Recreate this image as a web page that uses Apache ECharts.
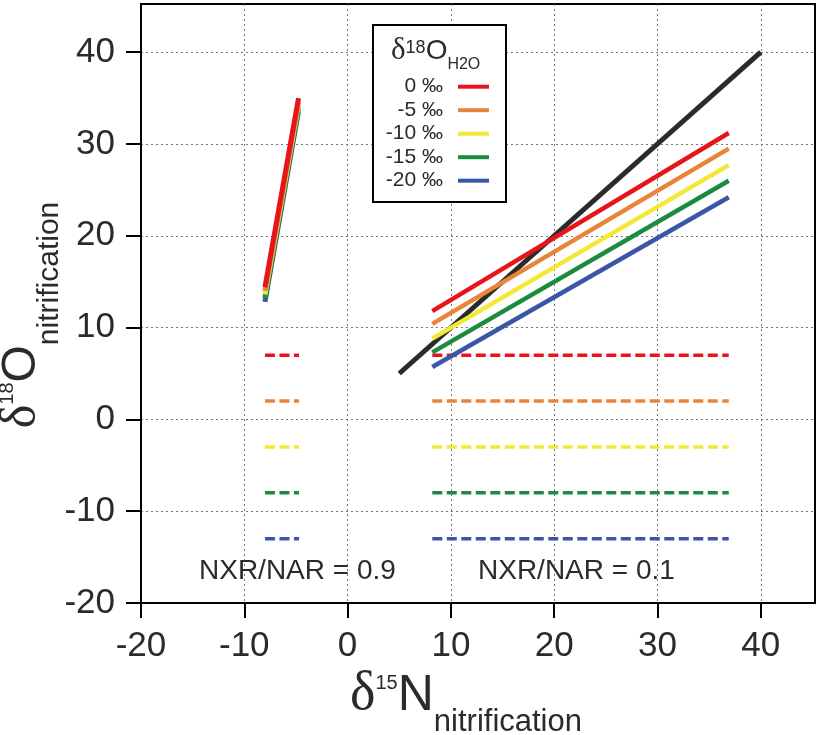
<!DOCTYPE html>
<html><head><meta charset="utf-8">
<script src="https://cdn.jsdelivr.net/npm/echarts@6/dist/echarts.min.js"></script>
<style>html,body{margin:0;padding:0;background:#fff}#c{width:820px;height:735px}</style>
</head><body><div id="c"></div>
<script>
// ---- data ----
const waterLabels = ['0 ‰', '-5 ‰', '-10 ‰', '-15 ‰', '-20 ‰'];
const xTicks = [-20, -10, 0, 10, 20, 30, 40];
const yTicks = [-20, -10, 0, 10, 20, 30, 40];
// NXR/NAR = 0.9 : steep solid lines
const steepX = [-8, -4.75];
const steepStartY = [14.4, 14.0, 13.6, 13.2, 12.8];
const steepEndY = [35.0, 34.6, 34.3, 34.0, 33.6];
// NXR/NAR = 0.9 : dashed lines
const leftDashX = [-8, -4.7];
// NXR/NAR = 0.1 : solid lines
const rightX = [8.2, 36.9];
const rightStartY = [11.8, 10.4, 8.8, 7.3, 5.7];
const rightEndY = [31.2, 29.5, 27.7, 26.0, 24.2];
// NXR/NAR = 0.1 : dashed lines
const rightDashX = [8.2, 36.9];
// dashed levels (both groups)
const dashY = [7, 2, -3, -8, -13];
// 1:1 line
const oneToOneX = [5, 40];
const oneToOneY = [5, 40];
const annotations = ['NXR/NAR = 0.9', 'NXR/NAR = 0.1'];

// ---- styles ----
const colors = ['#e8141b', '#e8853a', '#f5e735', '#1b8c3e', '#3b56a6'];
const SANS = '"Liberation Sans", Arial, sans-serif';
const SERIF = '"Liberation Serif", "Times New Roman", serif';
const TXT = '#2b2b2b';

const series = [];
series.push({
  type: 'line', name: '1:1', data: [[oneToOneX[0], oneToOneY[0]], [oneToOneX[1], oneToOneY[1]]],
  symbol: 'none', lineStyle: { color: '#2b2b2b', width: 5 }, z: 2
});
for (let i = waterLabels.length - 1; i >= 0; i--) {
  series.push({
    type: 'line', name: waterLabels[i], color: colors[i], symbol: 'none',
    data: [[steepX[0], steepStartY[i]], [steepX[1], steepEndY[i]]],
    lineStyle: { color: colors[i], width: 5 }, z: 3
  });
}
for (let i = 0; i < waterLabels.length; i++) {
  series.push({
    type: 'line', name: waterLabels[i], color: colors[i], symbol: 'none',
    data: [[rightX[0], rightStartY[i]], [rightX[1], rightEndY[i]]],
    lineStyle: { color: colors[i], width: 4.5 }, z: 3
  });
  series.push({
    type: 'line', name: waterLabels[i], color: colors[i], symbol: 'none',
    data: [[leftDashX[0], dashY[i]], [leftDashX[1], dashY[i]]],
    lineStyle: { color: colors[i], width: 3.5, type: [10, 4.5] }, z: 3
  });
  series.push({
    type: 'line', name: waterLabels[i], color: colors[i], symbol: 'none',
    data: [[rightDashX[0], dashY[i]], [rightDashX[1], dashY[i]]],
    lineStyle: { color: colors[i], width: 3.5, type: [10, 4.5] }, z: 3
  });
}

const axisCommon = {
  type: 'value', min: -20, max: 45.25,
  axisLine: { show: true, onZero: false, lineStyle: { color: '#000', width: 2 } },
  axisTick: { show: true, inside: false, length: 15, lineStyle: { color: '#000', width: 2 } },
  splitLine: { show: true, lineStyle: { color: '#777', width: 1, type: [2, 3] } },
  axisLabel: { fontSize: 35, fontFamily: SANS, color: TXT, margin: 26 }
};

const chart = echarts.init(document.getElementById('c'), null, { renderer: 'canvas' });
chart.setOption({
  animation: false,
  backgroundColor: '#fff',
  grid: { left: 141, right: 5, top: 4, bottom: 132, show: true, borderColor: '#000', borderWidth: 2, backgroundColor: 'transparent' },
  xAxis: Object.assign({}, axisCommon, {
    axisTick: Object.assign({}, axisCommon.axisTick, { customValues: xTicks }),
    axisLabel: Object.assign({}, axisCommon.axisLabel, { customValues: xTicks })
  }),
  yAxis: Object.assign({}, axisCommon, {
    axisTick: Object.assign({}, axisCommon.axisTick, { customValues: yTicks }),
    axisLabel: Object.assign({}, axisCommon.axisLabel, { customValues: yTicks })
  }),
  legend: {
    data: waterLabels, orient: 'vertical', align: 'right', selectedMode: false,
    right: 331, top: 76.2, padding: 0, itemGap: 2.5,
    icon: 'rect', itemWidth: 31, itemHeight: 4,
    textStyle: { fontSize: 21, fontFamily: SANS, color: TXT, lineHeight: 21, padding: [0, 10, 0, 0] },
    z: 10
  },
  graphic: { elements: [
    { type: 'rect', z: 5, shape: { x: 373, y: 25, width: 133, height: 177 },
      style: { fill: '#fff', stroke: '#000', lineWidth: 2 } },
    { type: 'text', z: 11, x: 391, y: 72.5,
      style: { text: '{d|δ}{sup|18}{m|O}{sub|H2O}', align: 'left', verticalAlign: 'bottom', fill: TXT,
        rich: {
          d: { fontFamily: SERIF, fontSize: 31, lineHeight: 31, padding: [0, 0, 6, 0], verticalAlign: 'bottom', fill: TXT },
          sup: { fontFamily: SANS, fontSize: 18, lineHeight: 18, padding: [0, 0, 15.5, 0], verticalAlign: 'bottom', fill: TXT },
          m: { fontFamily: SANS, fontSize: 28, lineHeight: 28, padding: [0, 0, 7, 0], verticalAlign: 'bottom', fill: TXT },
          sub: { fontFamily: SANS, fontSize: 16, lineHeight: 16, verticalAlign: 'bottom', fill: TXT }
        } } },
    { type: 'text', z: 11, x: 466, y: 738,
      style: { text: '{d|δ}{sup|15}{m|N}{sub|nitrification}', align: 'center', verticalAlign: 'bottom', fill: TXT,
        rich: {
          d: { fontFamily: SERIF, fontSize: 54, lineHeight: 54, padding: [0, 0, 16, 0], verticalAlign: 'bottom', fill: TXT },
          sup: { fontFamily: SANS, fontSize: 20, lineHeight: 20, padding: [0, 0, 45, 0], verticalAlign: 'bottom', fill: TXT },
          m: { fontFamily: SANS, fontSize: 50, lineHeight: 50, padding: [0, 0, 17, 0], verticalAlign: 'bottom', fill: TXT },
          sub: { fontFamily: SANS, fontSize: 31, lineHeight: 30, verticalAlign: 'bottom', fill: TXT }
        } } },
    { type: 'text', z: 11, x: 64.5, y: 315, rotation: Math.PI / 2,
      style: { text: '{d|δ}{sup|18}{m|O}{sub|nitrification}', align: 'center', verticalAlign: 'bottom', fill: TXT,
        rich: {
          d: { fontFamily: SERIF, fontSize: 50, lineHeight: 50, padding: [0, 0, 18, 0], verticalAlign: 'bottom', fill: TXT },
          sup: { fontFamily: SANS, fontSize: 20, lineHeight: 20, padding: [0, 0, 47.5, 0], verticalAlign: 'bottom', fill: TXT },
          m: { fontFamily: SANS, fontSize: 48, lineHeight: 48, padding: [0, 0, 19, 0], verticalAlign: 'bottom', fill: TXT },
          sub: { fontFamily: SANS, fontSize: 30, lineHeight: 30, verticalAlign: 'bottom', fill: TXT }
        } } },
    { type: 'text', z: 11, x: 199, y: 571,
      style: { text: annotations[0], font: '28px ' + SANS, fill: TXT, align: 'left', verticalAlign: 'middle' } },
    { type: 'text', z: 11, x: 478, y: 571,
      style: { text: annotations[1], font: '28px ' + SANS, fill: TXT, align: 'left', verticalAlign: 'middle' } }
  ] },
  series: series
});
</script></body></html>
